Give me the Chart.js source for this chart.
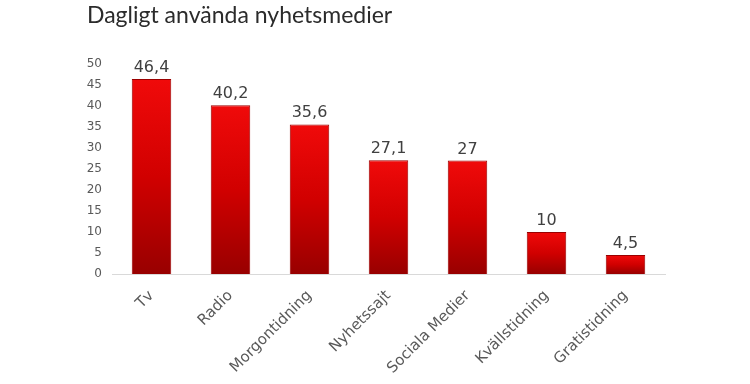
<!DOCTYPE html>
<html><head><meta charset="utf-8">
<script src="https://cdn.jsdelivr.net/npm/chart.js@4"></script>
<style>
html,body{margin:0;padding:0;background:#fff;}
#wrap{position:relative;width:750px;height:384px;}
#title{position:absolute;left:87px;top:0px;font-family:Lato,"Open Sans",sans-serif;font-size:23px;color:#2b2b2b;white-space:nowrap;}
canvas{position:absolute;left:0;top:0;}
</style></head>
<body>
<div id="wrap"><canvas id="c" width="750" height="384"></canvas><div id="title">Dagligt använda nyhetsmedier</div></div>
<script>
const categories = ["Tv","Radio","Morgontidning","Nyhetssajt","Sociala Medier","Kvällstidning","Gratistidning"];
const values = [46.4,40.2,35.6,27.1,27,10,4.5];
const yTicks = [0,5,10,15,20,25,30,35,40,45,50];

const fmt = v => String(v).replace('.', ',');

const labelPlugin = {
  id:'valLabels',
  afterDatasetsDraw(chart){
    const ctx = chart.ctx;
    const meta = chart.getDatasetMeta(0);
    ctx.save();
    ctx.font = '16px "DejaVu Sans", sans-serif';
    ctx.fillStyle = '#404040';
    ctx.textAlign = 'center';
    ctx.textBaseline = 'alphabetic';
    meta.data.forEach((bar,i)=>{
      ctx.fillText(fmt(values[i]), bar.x, bar.y - 7);
    });
    ctx.restore();
  }
};

new Chart(document.getElementById('c'), {
  type:'bar',
  data:{
    labels:categories,
    datasets:[{
      data:values,
      barPercentage:0.5,
      categoryPercentage:1.0,
      borderWidth:1,
      borderColor:'#9a0000',
      backgroundColor:(ctx)=>{
        const chart = ctx.chart;
        if(!chart.chartArea || ctx.dataIndex===undefined) return '#d00000';
        const y = chart.scales.y;
        const top = y.getPixelForValue(values[ctx.dataIndex]);
        const bot = y.getPixelForValue(0);
        const g = chart.ctx.createLinearGradient(0, top, 0, bot);
        g.addColorStop(0,'#f00a0a');
        g.addColorStop(0.5,'#d10000');
        g.addColorStop(1,'#980000');
        return g;
      }
    }]
  },
  options:{
    responsive:false,
    animation:false,
    layout:{padding:{top:64,right:85,left:0,bottom:0}},
    plugins:{legend:{display:false},tooltip:{enabled:false},title:{display:false}},
    scales:{
      x:{
        grid:{display:false,drawTicks:false},
        border:{display:true,color:'#d9d9d9',width:1},
        ticks:{
          color:'#595959',
          font:{family:'"DejaVu Sans", sans-serif',size:15},
          minRotation:45,maxRotation:45,padding:13
        },
        afterFit(s){ s.height = 384-274; }
      },
      y:{
        min:0,max:50,
        grid:{display:false,drawTicks:false},
        border:{display:false},
        afterBuildTicks(s){ s.ticks = yTicks.map(v=>({value:v})); },
        ticks:{
          color:'#595959',
          font:{family:'"DejaVu Sans", sans-serif',size:12},
          padding:10
        },
        afterFit(s){ s.width = 112; }
      }
    }
  },
  plugins:[labelPlugin]
});
</script>
</body></html>
